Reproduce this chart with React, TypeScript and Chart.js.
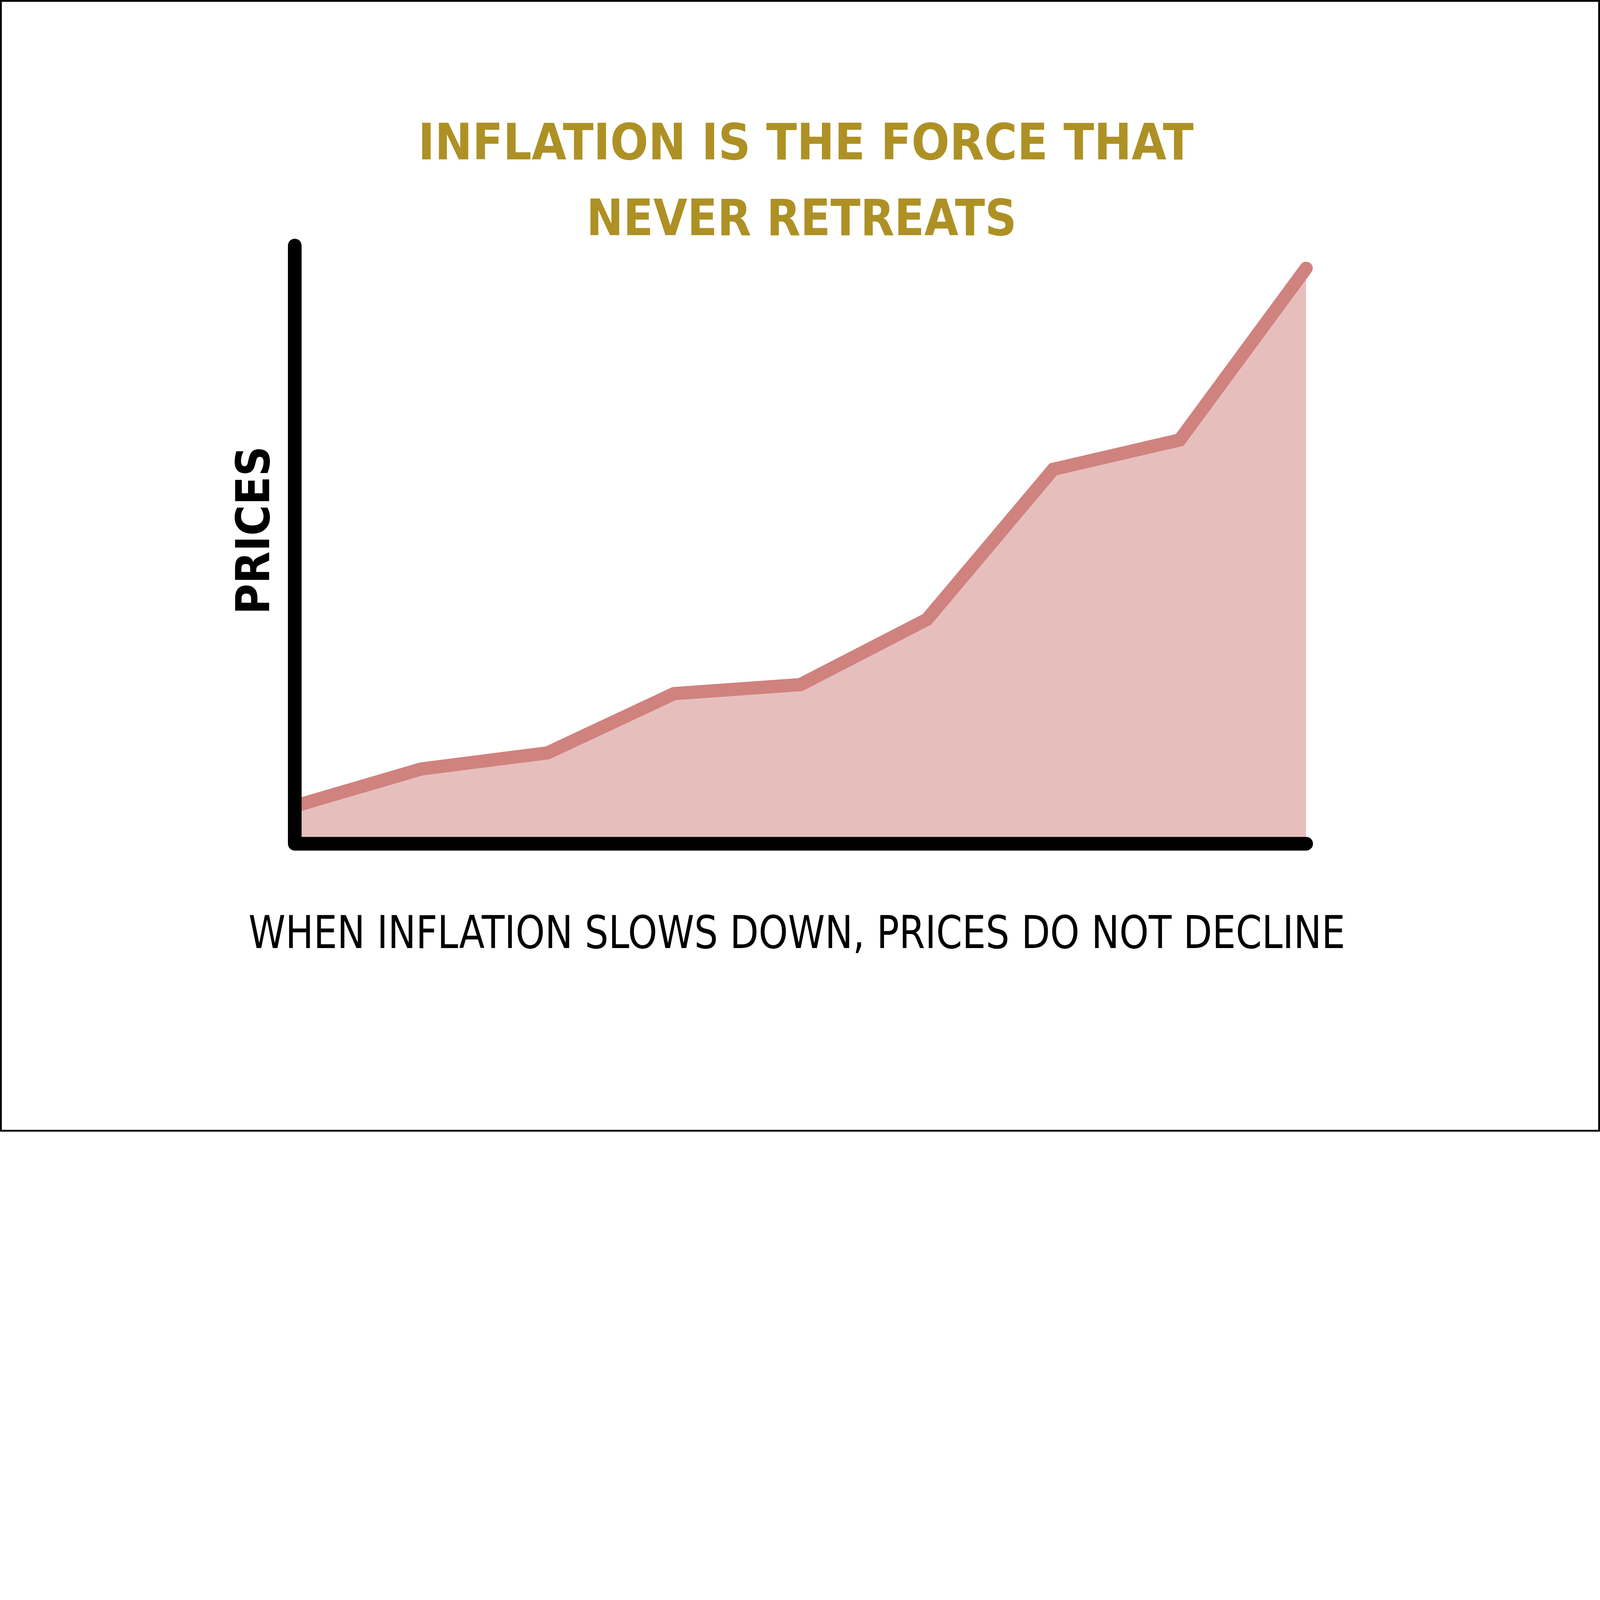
import React, { useEffect, useRef } from 'react';
import { Chart, registerables } from 'chart.js';

Chart.register(...registerables);

// ---- data ----
const periods = ['1', '2', '3', '4', '5', '6', '7', '8', '9'];
const prices = [6.3, 12.5, 15.2, 25.1, 26.6, 37.5, 62.6, 67.5, 96.2];
const yMin = 0;
const yMax = 100;
const titleLines = ['INFLATION IS THE FORCE THAT', 'NEVER RETREATS'];
const xAxisLabel = 'WHEN INFLATION SLOWS DOWN, PRICES DO NOT DECLINE';
const yAxisLabel = 'PRICES';

// ---- layout / style (design space = 7024 x 4968) ----
const W = 7024;
const H = 4968;
const TITLE_COLOR = '#AE9125';
const LINE_COLOR = '#D0827E';
const FILL_COLOR = '#E6BFBD';

function fitText(
  ctx: CanvasRenderingContext2D,
  text: string,
  font: string,
  color: string,
  left: number,
  right: number,
  baseline: number
) {
  ctx.save();
  ctx.font = font;
  ctx.fillStyle = color;
  ctx.textAlign = 'left';
  ctx.textBaseline = 'alphabetic';
  const m = ctx.measureText(text);
  const ink = m.actualBoundingBoxLeft + m.actualBoundingBoxRight;
  const s = (right - left) / ink;
  ctx.translate(left, baseline);
  ctx.scale(s, 1);
  ctx.fillText(text, m.actualBoundingBoxLeft, 0);
  ctx.restore();
}

const decor = {
  id: 'decor',
  beforeDraw(chart: any) {
    const ctx: CanvasRenderingContext2D = chart.ctx;
    ctx.save();
    ctx.fillStyle = '#ffffff';
    ctx.fillRect(0, 0, chart.width, chart.height);
    ctx.restore();
  },
  afterDatasetsDraw(chart: any) {
    const ctx: CanvasRenderingContext2D = chart.ctx;
    const a = chart.chartArea;
    // axis spines
    ctx.save();
    ctx.strokeStyle = '#000000';
    ctx.lineWidth = 60;
    ctx.lineCap = 'round';
    ctx.lineJoin = 'round';
    ctx.beginPath();
    ctx.moveTo(a.left, a.top);
    ctx.lineTo(a.left, a.bottom);
    ctx.lineTo(a.right, a.bottom);
    ctx.stroke();
    ctx.restore();

    // title
    fitText(ctx, titleLines[0], 'bold 221px "DejaVu Sans", sans-serif', TITLE_COLOR, 1853, 5239, 699);
    fitText(ctx, titleLines[1], 'bold 221px "DejaVu Sans", sans-serif', TITLE_COLOR, 2592, 4449, 1032);

    // x label
    fitText(ctx, xAxisLabel, '199px "DejaVu Sans", sans-serif', '#000000', 1096, 5895, 4162);

    // y label (rotated)
    ctx.save();
    ctx.translate(1182, 2681);
    ctx.rotate(-Math.PI / 2);
    fitText(ctx, yAxisLabel, 'bold 204px "DejaVu Sans", sans-serif', '#000000', 0, 709, 0);
    ctx.restore();

    // outer frame
    ctx.save();
    ctx.strokeStyle = '#000000';
    ctx.lineWidth = 8;
    ctx.strokeRect(4, 4, chart.width - 8, chart.height - 8);
    ctx.restore();
  },
};

export default function App() {
  const ref = useRef<HTMLCanvasElement>(null);

  useEffect(() => {
    document.body.style.margin = '0';
    const canvas = ref.current;
    if (!canvas) return;
    const vw = window.innerWidth || W;
    const vh = window.innerHeight || H;
    const scale = Math.min(1, vw / W, vh / H);
    canvas.style.width = `${Math.floor(W * scale)}px`;
    canvas.style.height = `${Math.floor(H * scale)}px`;

    const chart = new Chart(canvas, {
      type: 'line',
      data: {
        labels: periods,
        datasets: [
          {
            data: prices,
            borderColor: LINE_COLOR,
            backgroundColor: FILL_COLOR,
            fill: 'origin',
            borderWidth: 58,
            borderCapStyle: 'round',
            borderJoinStyle: 'miter',
            pointRadius: 0,
            pointHoverRadius: 0,
            tension: 0,
            clip: false as any,
          },
        ],
      },
      options: {
        responsive: false,
        animation: false,
        devicePixelRatio: scale,
        events: [],
        layout: {
          padding: { left: 1294, right: W - 5734, top: 1078, bottom: H - 3704 },
        },
        scales: {
          x: { display: false, offset: false },
          y: { display: false, min: yMin, max: yMax },
        },
        plugins: {
          legend: { display: false },
          tooltip: { enabled: false },
          title: { display: false },
        },
      },
      plugins: [decor as any],
    });
    return () => chart.destroy();
  }, []);

  return (
    <canvas
      ref={ref}
      width={W}
      height={H}
      style={{ position: 'absolute', left: 0, top: 0, display: 'block' }}
    />
  );
}
